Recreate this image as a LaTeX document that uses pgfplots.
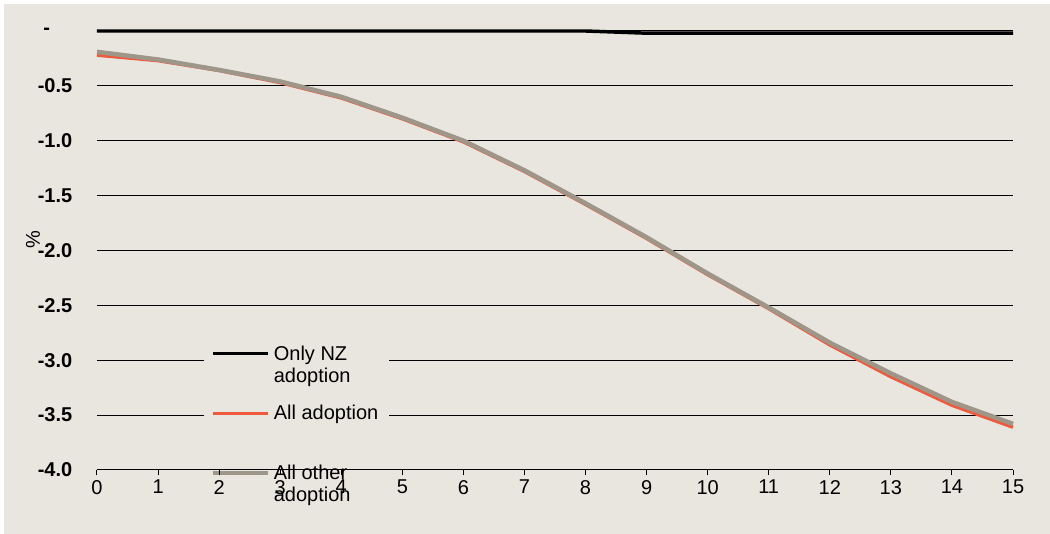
\documentclass[border=0pt]{standalone}
\usepackage{pgfplots}
\pgfplotsset{compat=1.18}
\usepackage{fontspec}
\setmainfont{Liberation Sans}
\definecolor{bg}{RGB}{233,230,224}
\definecolor{orangeline}{RGB}{240,90,60}
\definecolor{grayline}{RGB}{158,150,136}
\pgfplotsset{
  frame/.style={
    scale only axis,
    width=687pt, height=329.25pt,
    at={(0,0)}, anchor=south west,
    xmin=0, xmax=15, ymin=-4, ymax=0,
    xtick={0,1,...,15},
    ytick={0,-0.5,-1,-1.5,-2,-2.5,-3,-3.5,-4},
  },
}

\begin{document}
\begin{tikzpicture}[font=\fontsize{15pt}{16.5pt}\selectfont]
\fill[white] (-72.75pt,-48pt) rectangle (714.75pt,352.5pt);
\fill[bg] (-69.75pt,-48pt) rectangle (714.75pt,349.5pt);
% first axis: grid and legend only, so that the axis line and tick labels lie on top
\begin{axis}[
    frame,
    axis line style={draw=none},
    tick style={draw=none},
    xticklabels={}, yticklabels={},
    ymajorgrids,
    major grid style={black, line width=0.75pt},
    legend style={at={(axis description cs:0.1165,0.296)}, anchor=north west,
        fill=bg, draw=none, row sep=12pt, inner xsep=5pt, inner ysep=2pt,
        nodes={align=left, inner xsep=3pt}},
    legend cell align=left,
    legend image code/.code={\draw[#1] (0pt,0pt) -- (41pt,0pt);},
    legend image post style={yshift=8.5pt},
]
\addlegendimage{black, line width=2.6pt}
\addlegendentry{Only NZ\\adoption}
\addlegendimage{orangeline, line width=2.6pt}
\addlegendentry{All adoption\\\strut}
\addlegendimage{grayline, line width=3.4pt}
\addlegendentry{All other\\adoption}
\end{axis}
% second axis: data, axis line, ticks and labels
\begin{axis}[
    frame,
    clip=false,
    axis x line*=bottom,
    axis y line*=left,
    y axis line style={draw=none},
    yticklabels={-\hphantom{00},-0.5,-1.0,-1.5,-2.0,-2.5,-3.0,-3.5,-4.0},
    yticklabel style={font=\fontsize{15pt}{16.5pt}\selectfont\bfseries, xshift=-15pt},
    ytick style={draw=none},
    xtick align=outside,
    major tick length=4pt,
    x axis line style={line width=0.75pt},
    xtick style={line width=0.75pt, black},
    /pgf/number format/assume math mode=true,
    ylabel={\%},
    ylabel style={at={(axis description cs:-0.07,0.524)}, anchor=center},
]
\addplot[black, line width=2.6pt] coordinates {
(0,0) (1,0) (2,0) (3,0) (4,0) (5,0) (6,0) (7,0) (8,0)
(9,-0.02) (10,-0.02) (11,-0.02) (12,-0.02) (13,-0.02) (14,-0.02) (15,-0.02)};
\addplot[orangeline, line width=2.6pt] coordinates {
(0,-0.22) (1,-0.27) (2,-0.36) (3,-0.47) (4,-0.61) (5,-0.80) (6,-1.01)
(7,-1.28) (8,-1.58) (9,-1.89) (10,-2.22) (11,-2.53) (12,-2.86)
(13,-3.15) (14,-3.41) (15,-3.61)};
\addplot[grayline, line width=3.4pt] coordinates {
(0,-0.19) (1,-0.26) (2,-0.355) (3,-0.46) (4,-0.60) (5,-0.79) (6,-1.00)
(7,-1.27) (8,-1.57) (9,-1.88) (10,-2.21) (11,-2.52) (12,-2.84)
(13,-3.12) (14,-3.38) (15,-3.58)};
\end{axis}
\end{tikzpicture}
\end{document}
